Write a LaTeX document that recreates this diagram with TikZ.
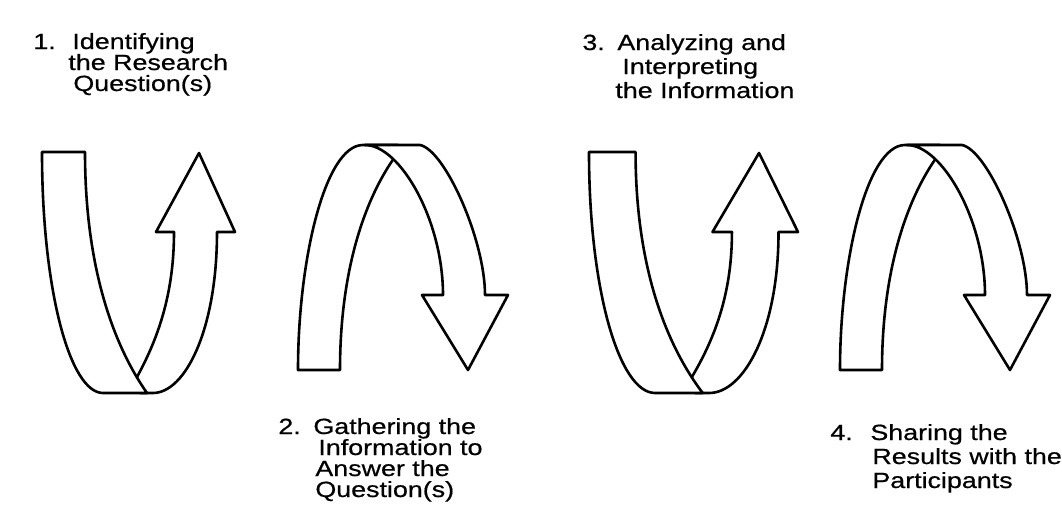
\documentclass[tikz,border=0pt]{standalone}
\usepackage{fontspec}
\setmainfont{Liberation Sans}
\newfontfamily\labfont[FakeStretch=1.22,FakeBold=0.6]{Liberation Sans}
\begin{document}
\begin{tikzpicture}[x=0.5pt,y=-0.5pt,
  band/.style={draw=black,fill=white,line width=1.3pt,line join=round},
  lab/.style={inner sep=0pt,align=left,anchor=base west,text=black},
  tight/.style={font=\labfont\fontsize{11}{10.5}\selectfont},
  loose/.style={font=\labfont\fontsize{11}{12}\selectfont},
  uarrow/.pic={
    % back band (rising to the arrow head)
    \path[band] (95,377) .. controls (118,335) and (132,290) .. (132,232)
      -- (114,232) -- (157,153) -- (193,232) -- (175,232)
      .. controls (175,330) and (143,393) .. (111,393) -- (98,393) -- cycle;
    % front band (tail coming down)
    \path[band] (0,152) -- (43,152) .. controls (43,260) and (68,340) .. (105,393)
      -- (61,393) .. controls (28,393) and (0,290) .. (0,152) -- cycle;
  },
  narrow/.pic={
    % back band (tail going up)
    \path[band] (0,370) -- (42,370) .. controls (42,270) and (67,195) .. (102,150)
      -- (100,145) -- (65,145) .. controls (27,145) and (0,260) .. (0,370) -- cycle;
    % front band (coming down to the arrow head)
    \path[band] (67,145) -- (122,145) .. controls (147,150) and (187,240) .. (187,295)
      -- (210,295) -- (170,370) -- (124,295) -- (145,295)
      .. controls (145,220) and (102,145) .. (67,145) -- cycle;
  }]
\useasboundingbox (0,0) rectangle (1062,509);
\fill[white] (0,0) rectangle (1062,509);

\pic at (42,0) {uarrow};
\pic at (298,0) {narrow};
\pic[xscale=1.083] at (589,0) {uarrow};
\pic at (840,0) {narrow};

% anchor base west = baseline of the last line
\node[lab,tight] (n1) at (33,49) {1.};
\node[lab,tight] (t1) at (68,91) {\hspace*{2pt}Identifying\\the Research\\\hspace*{2.5pt}Question(s)};

\node[lab,tight] (n2) at (278,434) {2.};
\node[lab,tight] (t2) at (313,497) {Gathering the\\\hspace*{2.5pt}Information to\\\hspace*{1pt}Answer the\\\hspace*{1pt}Question(s)};

\node[lab,loose] (n3) at (582,50) {3.};
\node[lab,loose] (t3) at (615,98) {\hspace*{1pt}Analyzing and\\\hspace*{3.5pt}Interpreting\\the Information};

\node[lab,loose] (n4) at (830,440) {4.};
\node[lab,loose] (t4) at (870,488) {Sharing the\\\hspace*{1pt}Results with the\\\hspace*{1pt}Participants};
\end{tikzpicture}
\end{document}
